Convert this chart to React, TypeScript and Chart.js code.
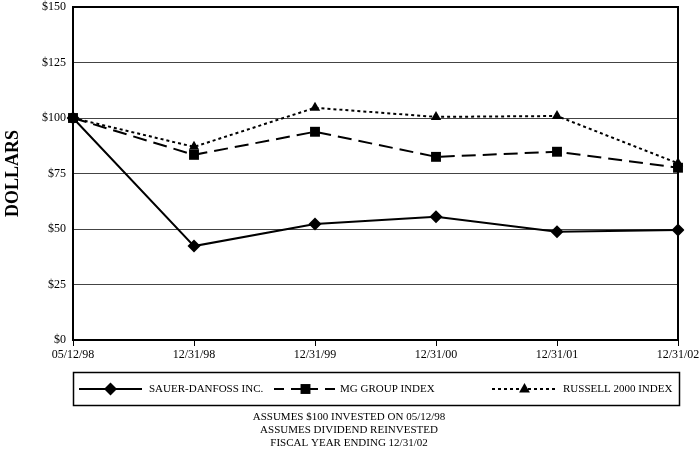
import React, { useEffect, useRef } from "react";
import { Chart, registerables } from "chart.js";

Chart.register(...registerables);

const categories = ["05/12/98", "12/31/98", "12/31/99", "12/31/00", "12/31/01", "12/31/02"];
const sauerDanfoss = [100, 42.3, 52.2, 55.5, 48.8, 49.6];
const mgGroup = [100, 83.4, 93.8, 82.5, 84.8, 77.6];
const russell2000 = [100, 87.0, 104.6, 100.5, 100.9, 79.6];
const seriesNames = ["SAUER-DANFOSS INC.", "MG GROUP INDEX", "RUSSELL 2000 INDEX"];
const footnotes = ["ASSUMES $100 INVESTED ON 05/12/98", "ASSUMES DIVIDEND REINVESTED", "FISCAL YEAR ENDING 12/31/02"];
const yTitle = "DOLLARS";

const SERIF = "'Liberation Serif', 'Times New Roman', serif";

function drawMarker(ctx: CanvasRenderingContext2D, style: string, x: number, y: number, r: number) {
  ctx.beginPath();
  if (style === "rectRot") {
    ctx.moveTo(x - r, y);
    ctx.lineTo(x, y - r);
    ctx.lineTo(x + r, y);
    ctx.lineTo(x, y + r);
  } else if (style === "rect") {
    const s = Math.SQRT1_2 * r;
    ctx.rect(x - s, y - s, 2 * s, 2 * s);
  } else {
    ctx.moveTo(x, y - r);
    ctx.lineTo(x + r * 0.9, y + r * 0.6);
    ctx.lineTo(x - r * 0.9, y + r * 0.6);
  }
  ctx.closePath();
  ctx.fill();
}

const decorPlugin = {
  id: "decor",
  beforeDatasetsDraw(chart: any) {
    const { ctx, chartArea: a } = chart;
    ctx.save();
    ctx.strokeStyle = "#000";
    ctx.lineWidth = 2;
    ctx.strokeRect(a.left, a.top, a.right - a.left, a.bottom - a.top);
    ctx.restore();
  },
  afterDraw(chart: any) {
    const { ctx, chartArea: a } = chart;
    ctx.save();
    // y-axis title
    ctx.fillStyle = "#000";
    ctx.font = `bold 18px ${SERIF}`;
    ctx.textAlign = "center";
    ctx.textBaseline = "middle";
    ctx.translate(13, (a.top + a.bottom) / 2);
    ctx.rotate(-Math.PI / 2);
    ctx.fillText(yTitle, 0, 0);
    ctx.setTransform(1, 0, 0, 1, 0, 0);

    // legend box
    const boxTop = 372, boxH = 33;
    ctx.strokeStyle = "#000";
    ctx.lineWidth = 1.5;
    ctx.strokeRect(a.left + 0.5, boxTop + 0.5, a.right - a.left + 1, boxH);
    const ly = boxTop + boxH / 2 + 0.5;
    const entries = [
      { x0: 79, x1: 142, text: 149, dash: [] as number[] },
      { x0: 274, x1: 337, text: 340, dash: [10, 7] },
      { x0: 492, x1: 557, text: 563, dash: [3, 3] },
    ];
    chart.data.datasets.forEach((ds: any, i: number) => {
      const e = entries[i];
      ctx.strokeStyle = "#000";
      ctx.lineWidth = 2;
      ctx.setLineDash(e.dash);
      ctx.beginPath();
      ctx.moveTo(e.x0, ly);
      ctx.lineTo(e.x1, ly);
      ctx.stroke();
      ctx.setLineDash([]);
      ctx.fillStyle = "#000";
      drawMarker(ctx, ds.pointStyle, (e.x0 + e.x1) / 2, ly, ds.pointRadius);
      ctx.font = `11px ${SERIF}`;
      ctx.textAlign = "left";
      ctx.textBaseline = "middle";
      ctx.fillText(ds.label, e.text, ly);
    });

    // footnotes
    ctx.font = `11px ${SERIF}`;
    ctx.textAlign = "center";
    ctx.textBaseline = "middle";
    footnotes.forEach((t, i) => ctx.fillText(t, 349, 417.5 + i * 13));
    ctx.restore();
  },
};

export default function App() {
  const ref = useRef<HTMLCanvasElement>(null);
  useEffect(() => {
    document.body.style.margin = "0";
    const chart = new Chart(ref.current as HTMLCanvasElement, {
      type: "line",
      data: {
        labels: categories,
        datasets: [
          {
            label: seriesNames[0],
            data: sauerDanfoss,
            borderColor: "#000",
            backgroundColor: "#000",
            borderWidth: 2,
            pointStyle: "rectRot",
            pointRadius: 6.5,
            pointBorderWidth: 0,
            tension: 0,
          },
          {
            label: seriesNames[1],
            data: mgGroup,
            borderColor: "#000",
            backgroundColor: "#000",
            borderWidth: 2,
            borderDash: [14, 7],
            pointStyle: "rect",
            pointRadius: 7,
            pointBorderWidth: 0,
            tension: 0,
          },
          {
            label: seriesNames[2],
            data: russell2000,
            borderColor: "#000",
            backgroundColor: "#000",
            borderWidth: 2,
            borderDash: [3, 3],
            pointStyle: "triangle",
            pointRadius: 6,
            pointBorderWidth: 0,
            tension: 0,
          },
        ],
      } as any,
      options: {
        animation: false,
        responsive: false,
        layout: { autoPadding: false, padding: { left: 0, top: 7, right: 22, bottom: 93 } } as any,
        plugins: { legend: { display: false }, tooltip: { enabled: false } },
        scales: {
          x: {
            type: "category",
            offset: false,
            grid: { display: true, drawOnChartArea: false, drawTicks: true, tickLength: 6, color: "#000", lineWidth: 1 },
            border: { display: true, color: "#000", width: 2 },
            ticks: { color: "#000", font: { family: SERIF, size: 12 }, padding: 2, maxRotation: 0, autoSkip: false },
            afterFit: (s: any) => { s.height = 22; s.paddingLeft = 0; s.paddingRight = 0; },
          },
          y: {
            min: 0,
            max: 150,
            ticks: { stepSize: 25, color: "#000", font: { family: SERIF, size: 12 }, padding: 7, callback: (v: any) => "$" + v },
            grid: { color: "#444", lineWidth: 1, drawTicks: false },
            border: { display: true, color: "#000", width: 2 },
            afterFit: (s: any) => { s.width = 73; s.paddingTop = 0; s.paddingBottom = 0; },
          },
        },
      } as any,
      plugins: [decorPlugin],
    });
    return () => chart.destroy();
  }, []);
  return <canvas ref={ref} width={700} height={455} style={{ display: "block", width: 700, height: 455 }} />;
}
